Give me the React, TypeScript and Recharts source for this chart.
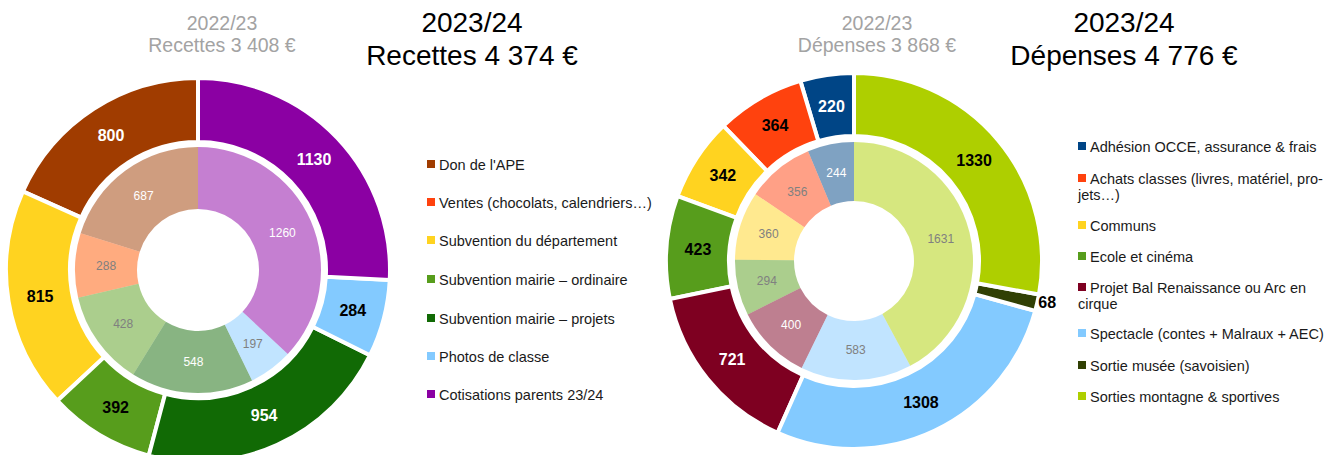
import React from "react";
import { Cell, Pie, PieChart } from "recharts";

// Recettes
const RECETTES_CATEGORIES = [
  "Don de l'APE",
  "Ventes (chocolats, calendriers…)",
  "Subvention du département",
  "Subvention mairie – ordinaire",
  "Subvention mairie – projets",
  "Photos de classe",
  "Cotisations parents 23/24",
];
const RECETTES_2023_24 = [800, 0, 815, 392, 954, 284, 1130];
const RECETTES_2022_23 = [687, 288, 0, 428, 548, 197, 1260];
const RECETTES_TITLES = ["2022/23", "Recettes 3 408 €", "2023/24", "Recettes 4 374 €"];

// Dépenses
const DEPENSES_CATEGORIES = [
  "Adhésion OCCE, assurance & frais",
  "Achats classes (livres, matériel, pro-\njets…)",
  "Communs",
  "Ecole et cinéma",
  "Projet Bal Renaissance ou Arc en\ncirque",
  "Spectacle (contes + Malraux + AEC)",
  "Sortie musée (savoisien)",
  "Sorties montagne & sportives",
];
const DEPENSES_2023_24 = [220, 364, 342, 423, 721, 1308, 68, 1330];
const DEPENSES_2022_23 = [244, 356, 360, 294, 400, 583, 0, 1631];
const DEPENSES_TITLES = ["2022/23", "Dépenses 3 868 €", "2023/24", "Dépenses 4 776 €"];

const RECETTES_COLORS = ["#a03c00", "#ff420e", "#ffd320", "#579d1c", "#116a05", "#83caff", "#8b00a3"];
// inner ring of recettes: ventes is a warmer orange there
const RECETTES_INNER_COLORS = ["#a03c00", "#ff5800", "#ffd320", "#579d1c", "#116a05", "#83caff", "#8b00a3"];
const DEPENSES_COLORS = ["#004586", "#ff420e", "#ffd320", "#579d1c", "#7e0021", "#83caff", "#314004", "#aecf00"];

const FONT = "'Liberation Sans', Arial, sans-serif";
const RADIAN = Math.PI / 180;

const toRows = (names: string[], values: number[]) =>
  names.map((name, i) => ({ name, value: values[i] }));

function isDark(hex: string) {
  const r = parseInt(hex.slice(1, 3), 16);
  const g = parseInt(hex.slice(3, 5), 16);
  const b = parseInt(hex.slice(5, 7), 16);
  return 0.299 * r + 0.587 * g + 0.114 * b < 100;
}

function makeLabel(colors: string[], ring: "outer" | "inner") {
  return (props: any) => {
    const { cx, cy, midAngle, innerRadius, outerRadius, value, index, percent } = props;
    if (!value) return null;
    const dark = isDark(colors[index]);
    if (ring === "outer" && percent < 0.03) {
      const r = outerRadius + 1;
      return (
        <text
          x={cx + r * Math.cos(-midAngle * RADIAN)}
          y={cy + r * Math.sin(-midAngle * RADIAN)}
          textAnchor="start"
          dominantBaseline="central"
          fontFamily={FONT}
          fontSize={16}
          fontWeight="bold"
          fill="#000"
        >
          {value}
        </text>
      );
    }
    const r = (innerRadius + outerRadius) / 2;
    return (
      <text
        x={cx + r * Math.cos(-midAngle * RADIAN)}
        y={cy + r * Math.sin(-midAngle * RADIAN)}
        textAnchor="middle"
        dominantBaseline="central"
        fontFamily={FONT}
        fontSize={ring === "outer" ? 16 : 12}
        fontWeight={ring === "outer" ? "bold" : "normal"}
        fill={dark ? "#fff" : ring === "outer" ? "#000" : "#808080"}
      >
        {value}
      </text>
    );
  };
}

function Titles({ titles, grayX, blackX }: { titles: string[]; grayX: number; blackX: number }) {
  return (
    <>
      <div
        style={{
          position: "absolute",
          left: grayX - 150,
          width: 300,
          top: 12,
          textAlign: "center",
          fontSize: 19.5,
          lineHeight: "22px",
          color: "#a3a3a3",
        }}
      >
        {titles[0]}
        <br />
        {titles[1]}
      </div>
      <div
        style={{
          position: "absolute",
          left: blackX - 200,
          width: 400,
          top: 6,
          textAlign: "center",
          fontSize: 28,
          lineHeight: "33px",
          color: "#000",
        }}
      >
        {titles[2]}
        <br />
        {titles[3]}
      </div>
    </>
  );
}

function LegendBlock({
  names,
  colors,
  x,
  baselines,
}: {
  names: string[];
  colors: string[];
  x: number;
  baselines: number[];
}) {
  return (
    <>
      {names.map((name, i) => (
        <div
          key={name}
          style={{
            position: "absolute",
            left: x,
            top: baselines[i] - 13,
            fontSize: 14.5,
            lineHeight: "16px",
            color: "#1a1a1a",
            whiteSpace: "pre",
          }}
        >
          <span
            style={{
              position: "absolute",
              left: 0,
              top: 3,
              width: 8,
              height: 8,
              background: colors[i],
            }}
          />
          <span style={{ marginLeft: 12 }}>{name}</span>
        </div>
      ))}
    </>
  );
}

export default function App() {
  return (
    <div
      style={{
        position: "absolute",
        left: 0,
        top: 0,
        width: 1338,
        height: 455,
        overflow: "hidden",
        background: "#fff",
        fontFamily: FONT,
      }}
    >
      <PieChart width={1338} height={455} margin={{ top: 0, right: 0, bottom: 0, left: 0 }}>
        <Pie
          data={toRows(RECETTES_CATEGORIES, RECETTES_2022_23)}
          dataKey="value"
          nameKey="name"
          cx={198}
          cy={270}
          innerRadius={61}
          outerRadius={123}
          startAngle={90}
          endAngle={450}
          strokeWidth={0}
          fillOpacity={0.5}
          labelLine={false}
          label={makeLabel(RECETTES_INNER_COLORS, "inner")}
          isAnimationActive={false}
        >
          {RECETTES_INNER_COLORS.map((c) => (
            <Cell key={c} fill={c} />
          ))}
        </Pie>
        <Pie
          data={toRows(RECETTES_CATEGORIES, RECETTES_2023_24)}
          dataKey="value"
          nameKey="name"
          cx={198}
          cy={270}
          innerRadius={128}
          outerRadius={192}
          startAngle={90}
          endAngle={450}
          stroke="#fff"
          strokeWidth={4}
          labelLine={false}
          label={makeLabel(RECETTES_COLORS, "outer")}
          isAnimationActive={false}
        >
          {RECETTES_COLORS.map((c) => (
            <Cell key={c} fill={c} />
          ))}
        </Pie>
        <Pie
          data={toRows(DEPENSES_CATEGORIES, DEPENSES_2022_23)}
          dataKey="value"
          nameKey="name"
          cx={854}
          cy={261}
          innerRadius={60}
          outerRadius={119}
          startAngle={90}
          endAngle={450}
          strokeWidth={0}
          fillOpacity={0.5}
          labelLine={false}
          label={makeLabel(DEPENSES_COLORS, "inner")}
          isAnimationActive={false}
        >
          {DEPENSES_COLORS.map((c) => (
            <Cell key={c} fill={c} />
          ))}
        </Pie>
        <Pie
          data={toRows(DEPENSES_CATEGORIES, DEPENSES_2023_24)}
          dataKey="value"
          nameKey="name"
          cx={854}
          cy={261}
          innerRadius={125}
          outerRadius={188}
          startAngle={90}
          endAngle={450}
          stroke="#fff"
          strokeWidth={4}
          labelLine={false}
          label={makeLabel(DEPENSES_COLORS, "outer")}
          isAnimationActive={false}
        >
          {DEPENSES_COLORS.map((c) => (
            <Cell key={c} fill={c} />
          ))}
        </Pie>
      </PieChart>

      <Titles titles={RECETTES_TITLES} grayX={222} blackX={472} />
      <Titles titles={DEPENSES_TITLES} grayX={877} blackX={1124} />

      <LegendBlock
        names={RECETTES_CATEGORIES}
        colors={RECETTES_COLORS}
        x={427}
        baselines={[170, 208, 246, 285, 324, 362, 400]}
      />
      <LegendBlock
        names={DEPENSES_CATEGORIES}
        colors={DEPENSES_COLORS}
        x={1078}
        baselines={[152, 184, 231, 262, 293, 339, 371, 402]}
      />
    </div>
  );
}
